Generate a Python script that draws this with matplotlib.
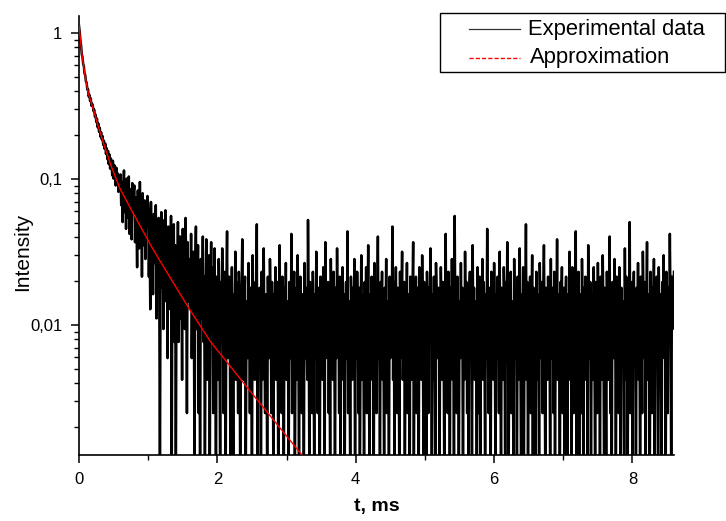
# -*- coding: utf-8 -*-
"""Luminescence decay: experimental data vs approximation (log scale)."""
import numpy as np
import matplotlib
matplotlib.use("Agg")
import matplotlib.pyplot as plt
from matplotlib.patches import Rectangle
from matplotlib.lines import Line2D
from matplotlib.ticker import FixedLocator, FuncFormatter, NullFormatter

plt.rcParams["font.family"] = ["Liberation Sans", "DejaVu Sans"]

W, H = 726, 521

T_STEP = 0.01          # ms
BASE = 0.00077         # intensity of a zero-count bin (below the axis)
UNIT = 0.00172         # intensity of one count
counts = [
    652, 590, 519, 478, 415, 398, 357, 344, 306, 299, 270, 266, 238, 240, 213, 219, 199, 207, 184, 190,
    183, 169, 173, 155, 160, 142, 150, 131, 139, 122, 130, 113, 121, 108, 114, 99, 106, 93, 101, 86,
    94, 79, 90, 73, 85, 68, 80, 75, 61, 77, 58, 72, 66, 52, 69, 55, 63, 47, 60, 54,
    62, 38, 55, 29, 48, 66, 34, 51, 26, 58, 44, 31, 60, 24, 49, 40, 22, 54, 35, 47,
    52, 21, 43, 30, 14, 48, 36, 19, 55, 25, 39, 12, 46, 20, 33, 41, 16, 37, 27, 44,
    36, 12, 29, 7, 40, 18, 25, 9, 33, 15, 21, 38, 6, 27, 14, 31, 11, 0, 24, 34,
    10, 30, 5, 22, 16, 35, 8, 19, 3, 27, 13, 24, 7, 32, 0, 17, 11, 28, 4, 20,
    0, 18, 9, 29, 4, 15, 23, 6, 12, 2, 26, 10, 19, 5, 31, 13, 1, 21, 8, 16,
    13, 7, 24, 3, 10, 18, 9, 0, 15, 27, 5, 8, 20, 1, 11, 0, 16, 6, 9, 23,
    4, 12, 0, 8, 22, 2, 10, 6, 17, 0, 9, 21, 5, 14, 1, 7, 19, 3, 0, 12,
    8, 2, 16, 6, 0, 11, 4, 19, 9, 1, 13, 7, 0, 10, 25, 3, 8, 12, 5, 0,
    7, 14, 3, 0, 9, 5, 18, 2, 11, 6, 1, 13, 8, 0, 4, 10, 22, 6, 2, 9,
    12, 0, 5, 8, 3, 15, 7, 1, 10, 4, 0, 17, 6, 9, 2, 11, 5, 28, 0, 7,
    3, 10, 6, 0, 13, 2, 8, 19, 4, 1, 9, 7, 0, 12, 5, 3, 16, 8, 1, 11,
    6, 0, 9, 4, 14, 2, 7, 11, 0, 5, 20, 3, 8, 1, 12, 6, 0, 10, 4, 15,
    2, 8, 5, 0, 11, 7, 3, 24, 1, 9, 6, 13, 0, 4, 10, 2, 17, 7, 0, 8,
    12, 4, 1, 9, 6, 0, 15, 3, 10, 5, 2, 30, 7, 0, 11, 4, 8, 1, 13, 6,
    0, 9, 3, 18, 5, 1, 10, 7, 0, 12, 4, 8, 2, 14, 6, 0, 21, 3, 9, 5,
    11, 1, 7, 0, 16, 4, 9, 2, 13, 6, 0, 10, 3, 19, 5, 8, 1, 12, 0, 7,
    4, 14, 2, 9, 0, 6, 11, 3, 25, 1, 8, 5, 0, 12, 7, 2, 10, 4, 16, 0,
    8, 3, 13, 6, 1, 10, 0, 5, 17, 2, 9, 7, 0, 11, 4, 14, 1, 6, 20, 3,
    0, 9, 5, 12, 2, 7, 0, 15, 4, 10, 1, 8, 23, 3, 6, 0, 11, 5, 13, 2,
    7, 0, 10, 4, 16, 1, 8, 6, 0, 12, 3, 9, 5, 27, 2, 11, 0, 7, 14, 4,
    1, 10, 6, 0, 13, 3, 8, 18, 2, 5, 11, 0, 7, 4, 15, 1, 9, 6, 0, 12,
    5, 2, 9, 21, 0, 7, 4, 12, 1, 10, 6, 0, 14, 3, 8, 2, 17, 5, 0, 11,
    3, 8, 0, 13, 6, 1, 10, 4, 19, 7, 0, 9, 2, 12, 5, 0, 15, 8, 3, 6,
    10, 0, 4, 14, 7, 2, 11, 5, 0, 8, 24, 3, 9, 1, 13, 6, 0, 10, 4, 16,
    2, 7, 0, 32, 5, 9, 1, 12, 6, 0, 8, 3, 15, 4, 10, 0, 7, 2, 18, 5,
    11, 1, 6, 0, 9, 13, 3, 7, 0, 20, 4, 10, 2, 8, 5, 0, 14, 6, 1, 12,
    0, 8, 4, 16, 2, 11, 6, 0, 9, 3, 26, 5, 1, 10, 7, 0, 13, 4, 8, 2,
    15, 5, 0, 9, 3, 12, 7, 1, 18, 4, 0, 10, 6, 2, 14, 8, 0, 11, 3, 21,
    6, 0, 10, 4, 13, 1, 8, 5, 0, 16, 3, 9, 7, 0, 12, 2, 6, 19, 4, 0,
    9, 3, 14, 0, 7, 5, 28, 2, 11, 0, 8, 4, 12, 1, 6, 17, 0, 10, 3, 7,
    0, 13, 5, 2, 9, 0, 15, 6, 3, 11, 1, 8, 20, 4, 0, 10, 7, 2, 12, 5,
    8, 0, 16, 3, 6, 10, 1, 13, 0, 7, 4, 22, 2, 9, 5, 0, 11, 6, 14, 1,
    4, 10, 0, 7, 12, 3, 0, 9, 5, 18, 2, 8, 0, 14, 6, 1, 11, 4, 25, 0,
    7, 3, 13, 0, 9, 5, 1, 16, 6, 0, 10, 4, 12, 2, 8, 0, 20, 5, 3, 11,
    0, 6, 9, 2, 14, 4, 0, 11, 7, 1, 15, 3, 8, 0, 12, 5, 2, 17, 6, 0,
    10, 4, 0, 13, 6, 2, 9, 23, 1, 7, 0, 11, 5, 3, 16, 8, 0, 12, 4, 9,
    1, 14, 6, 0, 10, 3, 8, 5, 0, 19, 2, 12, 7, 0, 9, 4, 29, 1, 6, 11,
    0, 8, 13, 3, 6, 0, 10, 4, 15, 2, 9, 0, 12, 5, 1, 18, 7, 3, 11, 0,
    6, 21, 2, 9, 4, 0, 13, 7, 1, 10, 5, 16, 0, 8, 3, 12, 6, 0, 14, 4,
    9, 2, 0, 11, 5, 17, 3, 8, 0, 13, 6, 1, 10, 4, 24, 7, 0, 12, 5, 9,
    13,
]

# --- approximation curve, points ---
fit_t = [0.0, 0.04, 0.09, 0.135, 0.21, 0.28, 0.375, 0.47, 0.59, 0.785,
         1.05, 1.17, 1.58, 1.894, 2.47, 3.22, 3.3]
fit_i = [1.13, 0.726, 0.50, 0.386, 0.297, 0.228, 0.164, 0.121, 0.0863, 0.058,
         0.0343, 0.0275, 0.0132, 0.00776, 0.00354, 0.00129, 0.00115]

x_major = [0, 2, 4, 6, 8]
x_minor = [1, 3, 5, 7]
y_major = [0.01, 0.1, 1]
y_labels = {0.01: "0,01", 0.1: "0,1", 1: "1"}

t = np.arange(len(counts)) * T_STEP
inten = BASE + UNIT * np.array(counts, dtype=float)

fig = plt.figure(figsize=(W / 100, H / 100), dpi=100)
fig.patch.set_facecolor("white")
ax = fig.add_axes([79 / W, (H - 455) / H, 595 / W, 439 / H])

ax.plot(t, inten, color="black", lw=1.8, zorder=2)
ax.plot(fit_t, fit_i, color="red", lw=1.0, zorder=3)

ax.set_yscale("log")
ax.set_xlim(0, 8.6)
ax.set_ylim(0.001286, 1.307)

for s in ("top", "right"):
    ax.spines[s].set_visible(False)
for s in ("left", "bottom"):
    ax.spines[s].set_linewidth(1.2)

ax.xaxis.set_major_locator(FixedLocator(x_major))
ax.xaxis.set_minor_locator(FixedLocator(x_minor))
ax.yaxis.set_major_locator(FixedLocator(y_major))
minors = [m * d for d in (0.001, 0.01, 0.1) for m in range(2, 10)]
ax.yaxis.set_minor_locator(FixedLocator(minors))
ax.yaxis.set_major_formatter(FuncFormatter(lambda v, p: y_labels.get(round(v, 4), "")))
ax.yaxis.set_minor_formatter(NullFormatter())
ax.tick_params(which="major", direction="out", length=6, width=1.1, labelsize=12, pad=6)
ax.tick_params(which="minor", direction="out", length=3.5, width=1.0)

ax.set_xlabel("t, ms", fontsize=14, fontweight="bold", labelpad=8)
ax.set_ylabel("Intensity", fontsize=15)
ax.yaxis.set_label_coords(-0.079, 0.463)

# legend box drawn in figure pixels (sticks out past the axes)
def fx(x):
    return x / W

def fy(y):
    return 1 - y / H

fig.add_artist(Rectangle((fx(440), fy(72)), 285 / W, 59 / H, transform=fig.transFigure,
                         fill=False, ec="black", lw=1.0))
fig.add_artist(Line2D([fx(469), fx(520)], [fy(29), fy(29)], transform=fig.transFigure,
                      color="#333333", lw=0.9))
fig.add_artist(Line2D([fx(469), fx(520)], [fy(58), fy(58)], transform=fig.transFigure,
                      color="red", lw=1.0, ls=(0, (3, 1.5))))
fig.text(fx(528), fy(29), "Experimental data", fontsize=15.8, va="center", ha="left")
fig.text(fx(530), fy(58), "Approximation", fontsize=15.8, va="center", ha="left")

fig.savefig("out.png", dpi=100)
plt.close(fig)
